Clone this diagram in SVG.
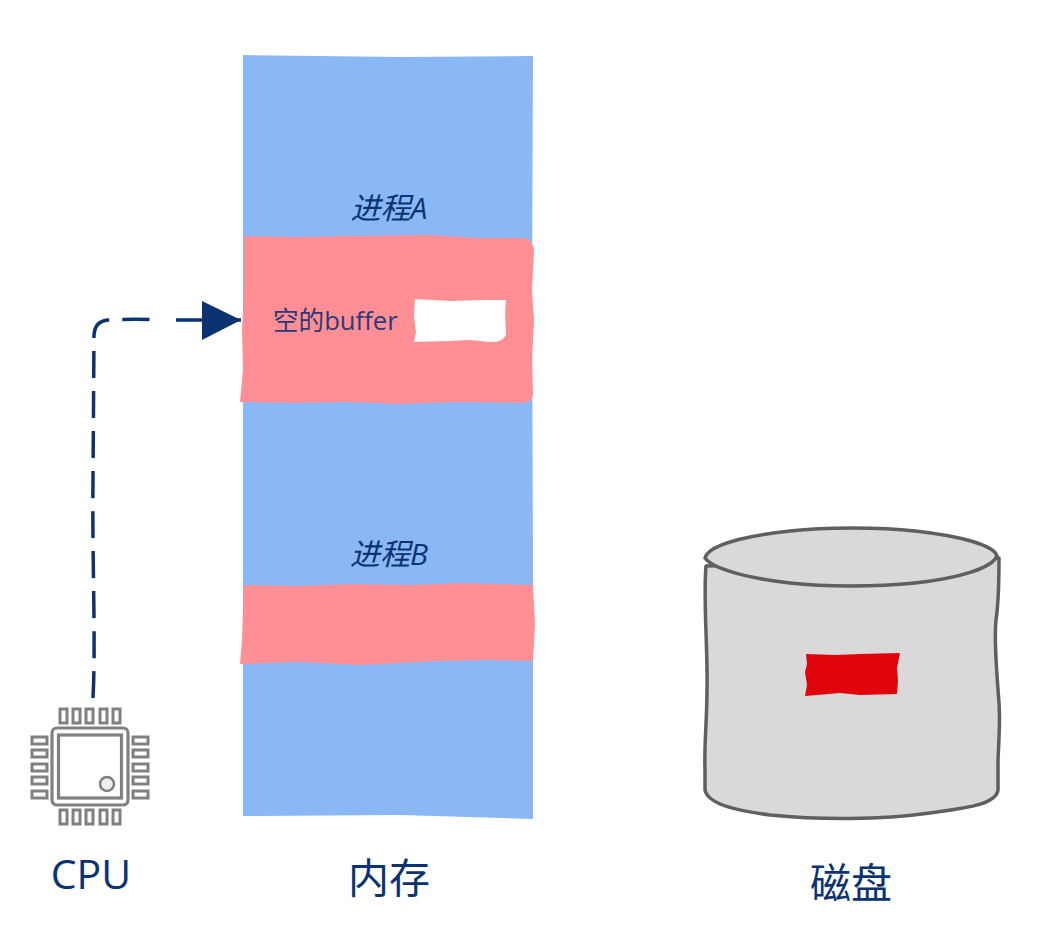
<svg xmlns="http://www.w3.org/2000/svg" width="1040" height="926" viewBox="0 0 1040 926">
<style>
text{font-family:"Open Sans","Noto Sans CJK SC",sans-serif;fill:#0b3372}
.lbl{font-size:41px;text-anchor:middle}
.proc{font-size:30px;font-style:italic;text-anchor:middle}
.pin{fill:none;stroke:#808080;stroke-width:3}
.chip{fill:none;stroke:#808080;stroke-width:3.200}
.pink{fill:#ff8f95}
.disk{fill:#d9d9d9;stroke:#5f5f5f;stroke-width:3.500;stroke-linejoin:round}
</style>
<defs><marker id="arr" markerUnits="userSpaceOnUse" markerWidth="42" markerHeight="42" refX="40" refY="20" orient="auto"><path d="M1 1L40 20L1 40Z" fill="#0b3372"/></marker></defs>
<rect width="1040" height="926" fill="#fff"/>
<g id="memory">
<path d="M243 55L400 57L533 56L532 300L533 560L533 819L400 815L243 816L243 500Z" fill="#8ab7f6"/>
<text class="lbl" x="389" y="893">内存</text>
</g>
<g id="process-a">
<text class="proc" x="389" y="219">进程A</text>
<path class="pink" d="M244 236L300 237L350 236L430 235L480 238L525 238Q534 241 534 252L532 290L534 320L532 360L533 395Q532 403 520 403L460 402L400 404L350 402L300 403L240 402L243 370L242 330L244 290Z"/>
<path d="M415 299L450 301L480 300L506 300L505 312L506 335Q502 343 490 342L470 340L450 341L414 342L416 332L414 316Z" fill="#fff"/>
<text x="273" y="330" font-size="25.600" style="fill:#2a3a78">空的buffer</text>
</g>
<g id="process-b">
<text class="proc" x="389" y="565">进程B</text>
<path class="pink" d="M243 585L300 586L350 584L410 585L460 583L533 585L535 625L533 661L490 660L440 661L360 665L300 662L240 664L242 640L243 610Z"/>
</g>
<g id="disk">
<path class="disk" d="M706 566C703 600 708 650 707 690C707 720 704 745 705 770L705 790C708 805 740 811 770 815C820 820 880 820 930 813C965 808 996 805 998 790L998 760C1000 720 1000 710 998 690C996 660 994 640 996 620C999 600 999 580 999 558Z"/>
<path class="disk" d="M705 558C708 545 745 536 790 531C825 527 880 527 915 531C960 536 994 545 997 556C992 568 960 578 915 583C875 587 825 587 790 583C745 578 712 568 705 558Z"/>
<path d="M806 654L835 655L860 654L900 653L897 668L898 680L897 694L860 695L840 693L805 696L807 685L805 672L807 664Z" fill="#e1040a"/>
<text class="lbl" x="851" y="898">磁盘</text>
</g>
<g id="cpu">
<rect class="chip" x="52" y="728" width="76" height="77" rx="5"/>
<rect class="chip" x="58.500" y="735" width="63" height="63"/>
<circle cx="107" cy="784" r="7" fill="#eee" stroke="#808080" stroke-width="2.600"/>
<g class="pin">
<rect x="60" y="709" width="7" height="14"/><rect x="73" y="709" width="7" height="14"/><rect x="86" y="709" width="7" height="14"/><rect x="100" y="709" width="7" height="14"/><rect x="113" y="709" width="7" height="14"/>
<rect x="60" y="810" width="7" height="14"/><rect x="73" y="810" width="7" height="14"/><rect x="86" y="810" width="7" height="14"/><rect x="100" y="810" width="7" height="14"/><rect x="113" y="810" width="7" height="14"/>
<rect x="32" y="737" width="15" height="7"/><rect x="32" y="750" width="15" height="7"/><rect x="32" y="764" width="15" height="7"/><rect x="32" y="777" width="15" height="7"/><rect x="32" y="791" width="15" height="7"/>
<rect x="133" y="737" width="15" height="7"/><rect x="133" y="750" width="15" height="7"/><rect x="133" y="764" width="15" height="7"/><rect x="133" y="777" width="15" height="7"/><rect x="133" y="791" width="15" height="7"/>
</g>
<text class="lbl" x="91" y="889">CPU</text>
</g>
<g id="connectors">
<path d="M93 698C96 640 92 560 93 480L94 335Q95 320 110 320C125 319 145 319 162 320M176 320L241 320" fill="none" stroke="#0b3372" stroke-width="3.500" stroke-dasharray="27 13" marker-end="url(#arr)"/>
</g>
</svg>
